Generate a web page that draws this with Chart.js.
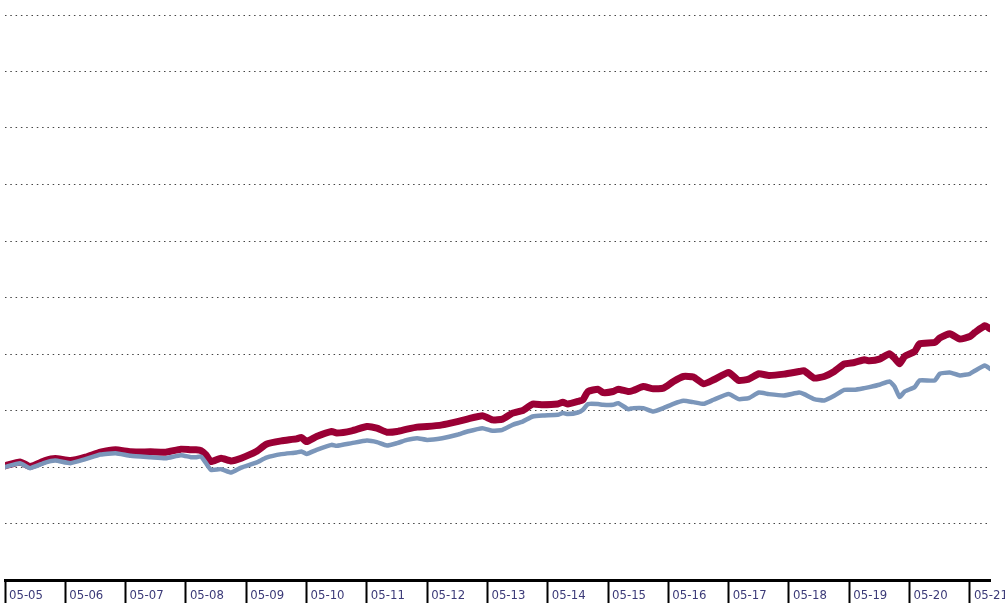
<!DOCTYPE html>
<html>
<head>
<meta charset="utf-8">
<script src="https://cdn.jsdelivr.net/npm/chart.js@4"></script>
<style>
  html, body { margin: 0; padding: 0; background: #fff; }
  #wrap { position: relative; width: 1005px; height: 603px; }
</style>
</head>
<body>
<div id="wrap"><canvas id="c"></canvas></div>
<script>
// Observation dates (YYYY-MM)
const dates = [
  "2005-05","2005-08","2005-10","2006-01","2006-03","2006-06","2006-09","2006-12","2007-03","2007-06",
  "2007-10","2008-01","2008-04","2008-06","2008-07","2008-08","2008-09","2008-10","2008-12","2009-02",
  "2009-04","2009-07","2009-09","2009-12","2010-03","2010-04","2010-05","2010-07","2010-10","2010-11",
  "2011-02","2011-05","2011-07","2011-09","2011-11","2012-01","2012-03","2012-05","2012-08","2012-11",
  "2013-01","2013-04","2013-06","2013-08","2013-10","2013-12","2014-02","2014-04","2014-07","2014-08",
  "2014-09","2014-11","2014-12","2015-01","2015-03","2015-04","2015-06","2015-07","2015-09","2015-10",
  "2015-12","2016-02","2016-04","2016-06","2016-08","2016-10","2016-12","2017-02","2017-05","2017-07",
  "2017-09","2017-11","2018-01","2018-04","2018-07","2018-08","2018-10","2018-12","2019-02","2019-04",
  "2019-06","2019-08","2019-09","2019-11","2020-01","2020-02","2020-03","2020-04","2020-06","2020-07",
  "2020-10","2020-11","2021-01","2021-03","2021-05","2021-06","2021-08","2021-09"
];
// Series values (index, start = 100)
const seriesRed = [
  101,104.5,100.4,105.7,107.5,105.7,108.7,113.1,115.2,113.4,
  113.4,113.1,115.8,115.2,115.2,114.5,110.7,104.8,107.8,105.4,
  107.8,113.7,120.2,123.1,124.9,126.1,122.5,127.0,131.4,130.0,
  132.0,135.8,134.4,130.8,131.4,133.5,135.3,135.8,137.3,140.2,
  142.4,145.3,141.7,142.4,147.7,150.0,155.7,155.0,155.7,157.4,
  155.7,158.0,159.5,166.8,168.9,165.9,166.8,168.9,166.8,167.7,
  171.2,169.2,169.8,175.7,180.1,179.6,173.6,177.2,183.6,176.6,
  177.8,182.5,181.0,182.2,184.5,185.2,178.7,180.1,184.5,191.1,
  192.5,194.9,194.0,195.5,200.2,196.4,191.4,197.8,202.2,209.1,
  210.2,214.1,217.9,213.2,215.5,219.1,225.0,222.4
];
const seriesBlue = [
  100,103.4,99.0,103.9,105.7,103.4,106.9,111.0,112.2,109.9,
  108.7,107.8,110.5,108.7,108.7,109.2,103.4,97.4,98.1,95.1,
  99.5,103.9,108.3,111.4,112.8,113.7,111.6,115.2,119.6,118.7,
  121.1,123.4,122.0,119.0,121.1,124.0,125.5,124.0,125.5,128.5,
  131.4,134.4,132.0,132.9,137.3,140.2,144.7,145.6,146.2,147.7,
  146.8,148.2,150.6,155.7,155.7,155.0,155.0,156.5,151.2,152.1,
  152.1,149.1,152.1,155.9,158.6,157.4,155.9,159.5,164.5,160.1,
  161.0,165.9,164.5,163.3,165.9,164.5,160.1,158.8,163.0,168.3,
  168.3,169.8,170.7,172.8,175.7,171.2,161.9,166.8,170.7,176.6,
  176.6,182.5,183.6,181.0,182.5,185.2,189.8,186.9
];
// Axis tick labels (each May)
const tickLabels = ["05-05","05-06","05-07","05-08","05-09","05-10","05-11","05-12","05-13",
                    "05-14","05-15","05-16","05-17","05-18","05-19","05-20","05-21"];

function monthIndex(s) {
  const [y, m] = s.split("-").map(Number);
  return (y - 2005) * 12 + (m - 5);
}
const redPts = dates.map((d, i) => ({ x: monthIndex(d), y: seriesRed[i] }));
const bluePts = dates.map((d, i) => ({ x: monthIndex(d), y: seriesBlue[i] }));

const FONT = "'Liberation Sans Narrow', 'DejaVu Sans Condensed', 'Arial Narrow', sans-serif";

new Chart(document.getElementById("c"), {
  type: "line",
  data: {
    datasets: [
      { data: bluePts, borderColor: "#7b96ba", borderWidth: 4.5, pointRadius: 0, tension: 0.15,
        borderJoinStyle: "round", borderCapStyle: "round", fill: false },
      { data: redPts, borderColor: "#9a0035", borderWidth: 7, pointRadius: 0, tension: 0.15,
        borderJoinStyle: "round", borderCapStyle: "round", fill: false }
    ]
  },
  options: {
    responsive: true,
    maintainAspectRatio: false,
    animation: false,
    layout: { padding: { left: 5, right: 15, top: 15, bottom: 0 } },
    plugins: { legend: { display: false }, tooltip: { enabled: false } },
    scales: {
      x: {
        type: "linear",
        min: 0,
        max: 196,
        afterFit: (s) => { s.height = 23; },
        border: { display: true, color: "#000", width: 3 },
        grid: { display: true, drawOnChartArea: false, drawTicks: true,
                tickLength: 23, tickColor: "#000", tickWidth: 2 },
        ticks: {
          stepSize: 12,
          includeBounds: false,
          autoSkip: false,
          maxRotation: 0,
          align: "start",
          labelOffset: 4,
          padding: -15,
          color: "#3b3a78",
          font: { family: FONT, size: 13 },
          callback: (v) => {
            const i = Math.round(v / 12);
            return (v % 12 === 0 && i < tickLabels.length) ? tickLabels[i] : "";
          }
        }
      },
      y: {
        min: 0,
        max: 500,
        afterFit: (s) => { s.width = 0; },
        border: { display: false, dash: [1.5, 3.8] },
        grid: { color: "#444", lineWidth: 1, drawTicks: false },
        ticks: { display: false, stepSize: 50 }
      }
    }
  }
});
</script>
</body>
</html>
